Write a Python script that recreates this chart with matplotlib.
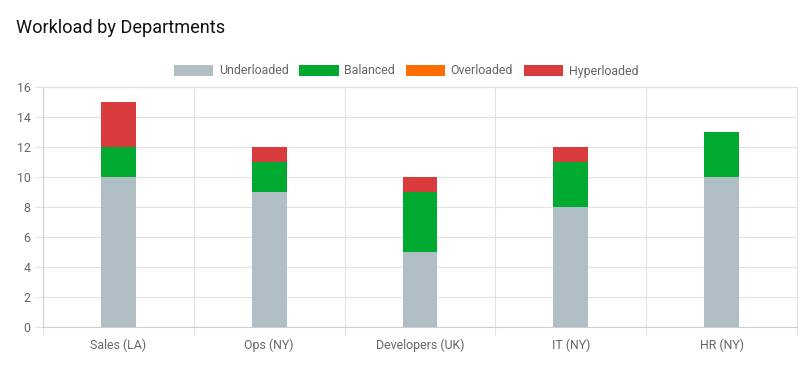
import matplotlib
matplotlib.use("Agg")
import matplotlib.pyplot as plt
import numpy as np
from matplotlib.patches import Patch

plt.rcParams["font.family"] = ["Roboto", "DejaVu Sans"]

departments = ["Sales (LA)", "Ops (NY)", "Developers (UK)", "IT (NY)", "HR (NY)"]
series_names = ["Underloaded", "Balanced", "Overloaded", "Hyperloaded"]
underloaded = [10, 9, 5, 8, 10]
balanced = [2, 2, 4, 3, 3]
overloaded = [0, 0, 0, 0, 0]
hyperloaded = [3, 1, 1, 1, 0]
colors = ["#b0bec5", "#00a92f", "#ff6d00", "#d93c3c"]
y_ticks = [0, 2, 4, 6, 8, 10, 12, 14, 16]

GRID = "#e3e3e3"
TICK_TXT = "#666666"

fig = plt.figure(figsize=(8.1, 3.7), dpi=100)
ax = fig.add_axes([43 / 810, 43 / 370, (797 - 43) / 810, (327 - 87) / 370])

x = np.arange(len(departments))
bottom = np.zeros(len(departments))
for vals, col in zip([underloaded, balanced, overloaded, hyperloaded], colors):
    ax.bar(x, vals, width=0.23, bottom=bottom, color=col, zorder=3)
    bottom += np.array(vals)

ax.set_xlim(-0.5, len(departments) - 0.5)
ax.set_ylim(0, 16)
ax.set_yticks(y_ticks)
ax.set_xticks(x)
ax.set_xticklabels(departments)
ax.set_xticks(np.arange(len(departments) + 1) - 0.5, minor=True)

ax.tick_params(axis="x", which="major", length=0, pad=8, labelsize=8.9,
               labelcolor=TICK_TXT)
ax.tick_params(axis="x", which="minor", length=6, color=GRID, width=0.8)
ax.tick_params(axis="y", length=6, color=GRID, width=0.8, pad=3,
               labelsize=8.9, labelcolor=TICK_TXT)

ax.grid(axis="y", color=GRID, linewidth=0.8, zorder=0)
ax.grid(axis="x", which="minor", color=GRID, linewidth=0.8, zorder=0)
for side, sp in ax.spines.items():
    sp.set_color(GRID)
    sp.set_linewidth(0.8)
ax.spines["bottom"].set_color("#cfcfcf")
ax.spines["left"].set_color("#cfcfcf")

fig.text(16 / 810, 1 - 28 / 370, "Workload by Departments", fontsize=13.1,
         color="#111111", va="center", ha="left")

handles = [Patch(facecolor=c, edgecolor="none") for c in colors]
fig.legend(handles, series_names, loc="center", ncol=4,
           bbox_to_anchor=(406 / 810, 1 - 71 / 370), frameon=False,
           fontsize=8.9, labelcolor=TICK_TXT, handlelength=3.2,
           handleheight=1.05, handletextpad=0.45, columnspacing=0.85)

fig.savefig("out.png", dpi=100)
